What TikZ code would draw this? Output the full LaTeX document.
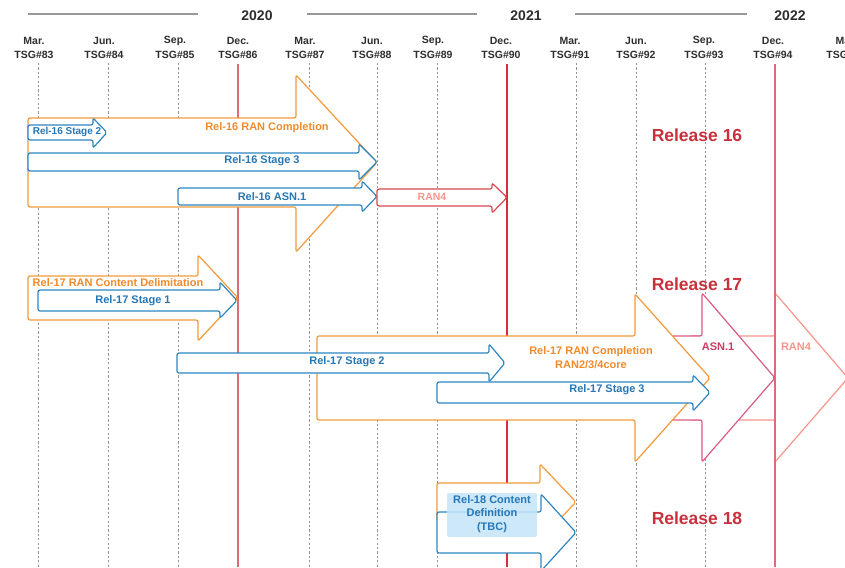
\documentclass[tikz,border=0pt]{standalone}
\usepackage{fontspec}
\setmainfont{Liberation Sans}
\definecolor{orng}{HTML}{F29A3C}
\definecolor{orngtxt}{HTML}{EF8B2C}
\definecolor{blu}{HTML}{2E86C1}
\definecolor{blutxt}{HTML}{2677B5}
\definecolor{redln}{HTML}{D12F3B}
\definecolor{redlt}{HTML}{DF6B75}
\definecolor{reltxt}{HTML}{C8313C}
\definecolor{asn}{HTML}{D95C86}
\definecolor{asntxt}{HTML}{C93E62}
\definecolor{salm}{HTML}{F5968C}
\definecolor{ranred}{HTML}{D6474F}
\definecolor{ltblue}{HTML}{C5E4F7}
\definecolor{hdrtxt}{HTML}{2E2E2E}
\newcommand\fatarrow[8]{\draw[#1] (#2,#3) -- (#5,#3) -- (#5,#6) -- (#8,{(#3+#4)/2}) -- (#5,#7) -- (#5,#4) -- (#2,#4) -- cycle;}
\tikzset{
  gridline/.style={draw=gray!85, line width=0.9pt, dash pattern=on 2.2pt off 2.2pt},
  yearline/.style={draw=gray!80, line width=1.1pt},
  hdr/.style={font=\bfseries\fontsize{10.5}{12}\selectfont, text=hdrtxt, inner sep=0pt},
  yr/.style={font=\bfseries\fontsize{14}{16}\selectfont, text=hdrtxt, inner sep=0pt},
  lbl/.style={font=\bfseries\fontsize{11}{13.5}\selectfont, inner sep=0pt, align=center},
  rel/.style={font=\bfseries\fontsize{17.5}{20}\selectfont, text=reltxt, inner sep=0pt},
  orarrow/.style={draw=orng, fill=white, line width=1.2pt, rounded corners=2pt},
  blarrow/.style={draw=blu, fill=white, line width=1.2pt, rounded corners=2pt},
  rdarrow/.style={draw=ranred, fill=white, line width=1.2pt, rounded corners=2pt},
  asnarrow/.style={draw=asn, fill=white, line width=1.2pt, rounded corners=2pt},
  salarrow/.style={draw=salm, line width=1.2pt, rounded corners=2pt},
}
\begin{document}
\begin{tikzpicture}[x=1pt,y=-1pt]
\clip (0,0) rectangle (845,567);
\fill[white] (0,0) rectangle (845,567);
% year rulers
\draw[yearline] (28,14) -- (198,14);
\draw[yearline] (307,14) -- (477,14);
\draw[yearline] (575,14) -- (747,14);
\node[yr] (y2020) at (257,16) {2020};
\node[yr] (y2021) at (526,16) {2021};
\node[yr] (y2022) at (790,16) {2022};
% header labels
\foreach \c/\m/\t in {34/Mar./83,104/Jun./84,175/Sep./85,238/Dec./86,305/Mar./87,372/Jun./88,433/Sep./89,501/Dec./90,570/Mar./91,636/Jun./92,704/Sep./93,773/Dec./94,846/Mar./95}{
  \node[hdr] (m\t) at (\c,41) {\m};
  \node[hdr] (t\t) at (\c,55) {TSG\#\t};
}
% grid
\foreach \x in {38,108,178,309,377,437,576,636,705}{\draw[gridline] (\x,63) -- (\x,567);}
\draw[redlt, line width=1.3pt] (238,64) -- (238,567);
\draw[redln, line width=1.5pt] (507,64) -- (507,567);
% Release 16
\fatarrow{orarrow}{28}{118}{207}{296}{75}{252}{377}
\fatarrow{blarrow}{28}{153}{171}{359}{144}{180}{377}
\fatarrow{blarrow}{178}{188}{205}{362}{181}{212}{377}
\fatarrow{blarrow}{28}{125}{140}{93}{118}{148}{107}
\fatarrow{rdarrow}{377}{189}{206}{492}{183}{213}{507}
\node[lbl, text=orngtxt] (r16ran) at (267,128) {Rel-16 RAN Completion};
\node[lbl, text=blutxt, font=\bfseries\fontsize{10}{12}\selectfont] (r16s2) at (67,132) {Rel-16 Stage 2};
\node[lbl, text=blutxt] (r16s3) at (262,161) {Rel-16 Stage 3};
\node[lbl, text=blutxt] (r16asn) at (272,197) {Rel-16 ASN.1};
\node[lbl, text=salm, font=\bfseries\fontsize{10.5}{12}\selectfont] (r16ran4) at (432,197) {RAN4};
\node[rel] (rel16) at (697,135) {Release 16};
% Release 17
\fatarrow{orarrow}{28}{276}{320}{198}{255}{341}{238}
\fatarrow{blarrow}{38}{290}{311}{220}{282}{318}{237}
\fatarrow{salarrow}{690}{336}{420}{775}{293}{462}{848}
\draw[redlt, line width=1.3pt] (775,64) -- (775,567);
\fatarrow{asnarrow}{650}{336}{420}{702}{293}{462}{775}
\fatarrow{orarrow}{317}{336}{420}{635}{294}{462}{710}
\fatarrow{blarrow}{177}{353}{373}{489}{344}{382}{505}
\fatarrow{blarrow}{437}{382}{403}{693}{375}{411}{710}
\node[lbl, text=orngtxt] (r17cd) at (118,283) {Rel-17 RAN Content Delimitation};
\node[lbl, text=blutxt] (r17s1) at (133,301) {Rel-17 Stage 1};
\node[lbl, text=blutxt] (r17s2) at (347,362) {Rel-17 Stage 2};
\node[lbl, text=orngtxt] (r17ran) at (591,357.5) {Rel-17 RAN Completion\\RAN2/3/4core};
\node[lbl, text=blutxt] (r17s3) at (607,390) {Rel-17 Stage 3};
\node[lbl, text=asntxt] (r17asn) at (718,347) {ASN.1};
\node[lbl, text=salm] (r17ran4) at (796,347) {RAN4};
\node[rel] (rel17) at (697,284) {Release 17};
% Release 18
\fatarrow{orarrow}{437}{483}{521}{540}{464}{540}{576}
\fatarrow{blarrow}{437}{512}{553}{541}{494}{571}{576}
\fill[ltblue, opacity=0.85, rounded corners=2pt] (447,493) rectangle (537,537);
\node[lbl, text=blutxt] (r18cd) at (492,514) {Rel-18 Content\\Definition\\(TBC)};
\node[rel] (rel18) at (697,518) {Release 18};
\end{tikzpicture}
\end{document}
